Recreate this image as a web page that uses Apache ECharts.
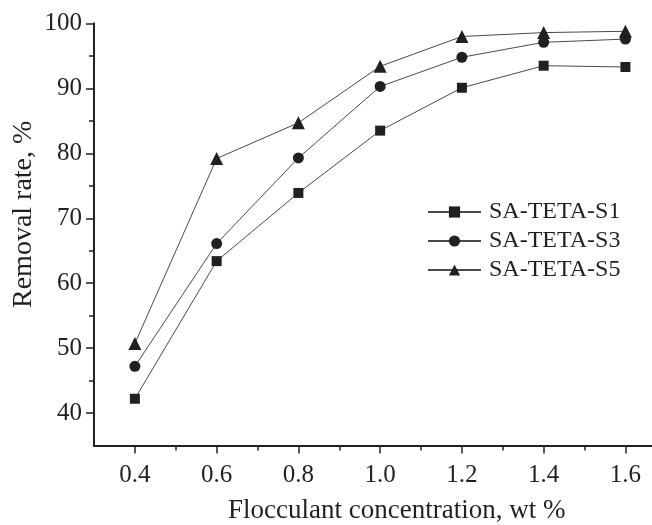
<!DOCTYPE html>
<html>
<head>
<meta charset="utf-8">
<script src="https://cdn.jsdelivr.net/npm/echarts@6/dist/echarts.min.js"></script>
<style>html,body{margin:0;padding:0;background:#fff}#c{width:652px;height:525px}</style>
</head>
<body>
<div id="c"></div>
<script>
const concentrations = [0.4, 0.6, 0.8, 1.0, 1.2, 1.4, 1.6];
const seriesNames = ['SA-TETA-S1', 'SA-TETA-S3', 'SA-TETA-S5'];
const s1 = [42.2, 63.4, 73.9, 83.5, 90.1, 93.5, 93.3];
const s3 = [47.2, 66.1, 79.3, 90.3, 94.8, 97.1, 97.6];
const s5 = [50.7, 79.2, 84.7, 93.4, 98.0, 98.6, 98.8];
const xMajorTicks = [0.4, 0.6, 0.8, 1.0, 1.2, 1.4, 1.6];
const xMinorTicks = [0.5, 0.7, 0.9, 1.1, 1.3, 1.5];
const yMajorTicks = [40, 50, 60, 70, 80, 90, 100];
const yMinorTicks = [45, 55, 65, 75, 85, 95];
const xTitle = 'Flocculant concentration, wt %';
const yTitle = 'Removal rate, %';

const FONT = 'Liberation Serif';
const INK = '#231f20';
const chart = echarts.init(document.getElementById('c'), null, {renderer: 'canvas'});
const pairs = arr => concentrations.map((c, i) => [c, arr[i]]);
const symbols = ['rect', 'circle', 'triangle'];
const sizes = [10, 11, 13];
const dataSets = [s1, s3, s5];

const axisCommon = {
  axisLine: {show: true, lineStyle: {color: INK, width: 1.8}},
  splitLine: {show: false}
};

chart.setOption({
  animation: false,
  backgroundColor: '#fff',
  grid: {left: 94, right: 0, top: 23.5, bottom: 79.5, containLabel: false},
  xAxis: [
    Object.assign({
      type: 'value', min: 0.3, max: 1.665, position: 'bottom',
      axisTick: {show: true, customValues: xMajorTicks, length: 8, lineStyle: {color: INK, width: 1.5}},
      axisLabel: {show: true, customValues: xMajorTicks, margin: 17, color: INK, fontFamily: FONT, fontSize: 25,
        formatter: v => v.toFixed(1)}
    }, axisCommon),
    Object.assign({
      type: 'value', min: 0.3, max: 1.665, position: 'bottom',
      axisTick: {show: true, customValues: xMinorTicks, length: 5, lineStyle: {color: INK, width: 1.5}},
      axisLabel: {show: false}
    }, axisCommon)
  ],
  yAxis: [
    Object.assign({
      type: 'value', min: 35, max: 100, position: 'left',
      axisTick: {show: true, customValues: yMajorTicks, length: 8, lineStyle: {color: INK, width: 1.5}},
      axisLabel: {show: true, customValues: yMajorTicks, margin: 12, color: INK, fontFamily: FONT, fontSize: 25}
    }, axisCommon),
    Object.assign({
      type: 'value', min: 35, max: 100, position: 'left',
      axisTick: {show: true, customValues: yMinorTicks, length: 5, lineStyle: {color: INK, width: 1.5}},
      axisLabel: {show: false}
    }, axisCommon)
  ],
  legend: {
    left: 427, top: 200, orient: 'vertical', padding: 0,
    itemWidth: 53, itemHeight: 14, itemGap: 5,
    textStyle: {color: INK, fontFamily: FONT, fontSize: 24, lineHeight: 24, padding: [0, 0, 0, 3]},
    data: seriesNames
  },
  series: seriesNames.map((name, i) => ({
    name: name, type: 'line', xAxisIndex: 0, yAxisIndex: 0,
    data: pairs(dataSets[i]),
    symbol: symbols[i], symbolSize: sizes[i],
    lineStyle: {color: '#4a4a4a', width: 1},
    itemStyle: {color: INK, borderWidth: 0},
    z: 2 + i
  })),
  graphic: [
    {type: 'text', left: 228, top: 497,
      style: {text: xTitle, fill: INK, font: '27px "Liberation Serif"'}},
    {type: 'text', x: 10, y: 308, rotation: Math.PI / 2,
      style: {text: yTitle, fill: INK, font: '28px "Liberation Serif"'}}
  ]
});
</script>
</body>
</html>
